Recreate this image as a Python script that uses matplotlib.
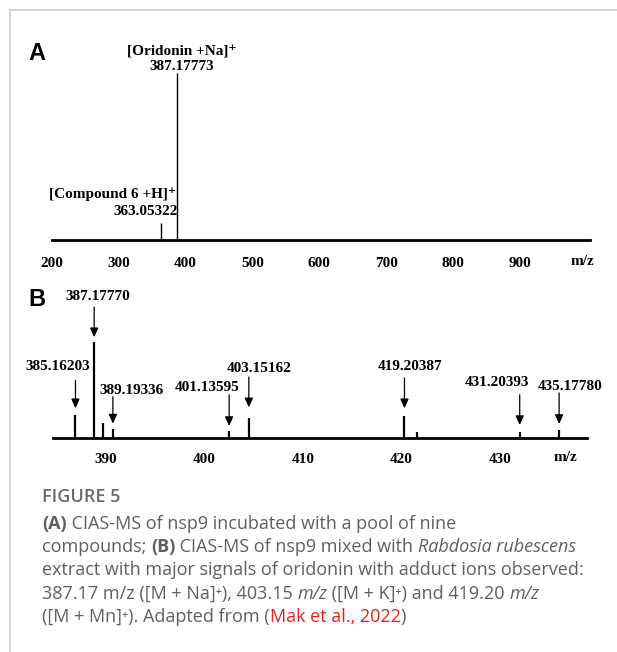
import matplotlib
matplotlib.use("Agg")
import matplotlib.pyplot as plt
from matplotlib.lines import Line2D

# ---------------- data ----------------
# Panel A: full scan
a_mz = [363.05, 387.18]
a_int = [10, 100]
a_ticks = [200, 300, 400, 500, 600, 700, 800, 900]

# Panel B: zoomed scan (peak positions)
b_mz = [386.9, 388.8, 389.7, 390.7, 402.5, 404.5, 420.3, 421.6, 432.0, 436.0]
b_int = [24, 100, 16, 9, 7, 21, 23, 6, 6, 8]
b_ticks = [390, 400, 410, 420, 430]

# labelled peaks in B
b_labels = ["385.16203", "387.17770", "389.19336", "401.13595",
            "403.15162", "419.20387", "431.20393", "435.17780"]
b_label_peak = [386.9, 388.8, 390.7, 402.5, 404.5, 420.3, 432.0, 436.0]

W, H = 617, 652
fig = plt.figure(figsize=(W / 100, H / 100), dpi=100)

def px_axes(x0, y0, x1, y1):
    """axes from pixel box (top-left origin)"""
    return fig.add_axes([x0 / W, 1 - y1 / H, (x1 - x0) / W, (y1 - y0) / H])

serif = ["Liberation Serif", "DejaVu Serif"]
lab_fs = 11

# ---------------- border ----------------
fig.add_artist(Line2D([10 / W, 10 / W], [1 - 10 / H, 0], color="#cccccc", lw=1.2))
fig.add_artist(Line2D([10 / W, 1], [1 - 10 / H, 1 - 10 / H], color="#cccccc", lw=1.2))

# ---------------- panel A ----------------
axA = px_axes(52, 73, 590, 240)
axA.set_xlim(203, 1005)
axA.set_ylim(0, 100)
axA.vlines(a_mz, 0, a_int, color="black", lw=1.0)
axA.axhline(0, color="black", lw=2.0, clip_on=False)
for s in axA.spines.values():
    s.set_visible(False)
axA.set_yticks([])
axA.set_xticks(a_ticks)
axA.set_xticklabels([str(t) for t in a_ticks], fontfamily=serif,
                    fontweight="bold", fontsize=lab_fs)
axA.tick_params(axis="x", length=0, pad=12)
axA.text(993, -13, "m/z", fontfamily=serif, fontweight="bold", fontsize=lab_fs,
         ha="center", va="center", clip_on=False)
axA.text(393.8, 112.6, "[Oridonin +Na]⁺", fontfamily=serif, fontweight="bold",
         fontsize=lab_fs, ha="center", va="center", clip_on=False)
axA.text(393.8, 103.6, "387.17773", fontfamily=serif, fontweight="bold",
         fontsize=lab_fs, ha="center", va="center", clip_on=False)
axA.text(291.0, 27.5, "[Compound 6 +H]⁺", fontfamily=serif, fontweight="bold",
         fontsize=lab_fs, ha="center", va="center", clip_on=False)
axA.text(387.6, 16.8, "363.05322", fontfamily=serif, fontweight="bold",
         fontsize=lab_fs, ha="right", va="center", clip_on=False)
fig.text(37 / W, 1 - 53 / H, "A", fontfamily="Liberation Sans", fontweight="bold",
         fontsize=17, ha="center", va="center")

# ---------------- panel B ----------------
axB = px_axes(53, 342, 587, 438)
axB.set_xlim(384.62, 438.83)
axB.set_ylim(0, 100)
axB.vlines(b_mz, 0, b_int, color="black", lw=1.6)
axB.axhline(0, color="black", lw=2.0, clip_on=False)
for s in axB.spines.values():
    s.set_visible(False)
axB.set_yticks([])
axB.set_xticks(b_ticks)
axB.set_xticklabels([str(t) for t in b_ticks], fontfamily=serif,
                    fontweight="bold", fontsize=lab_fs)
axB.tick_params(axis="x", length=0, pad=11)
axB.text(436.6, -20, "m/z", fontfamily=serif, fontweight="bold", fontsize=lab_fs,
         ha="center", va="center", clip_on=False)
fig.text(37 / W, 1 - 300 / H, "B", fontfamily="Liberation Sans", fontweight="bold",
         fontsize=17, ha="center", va="center")

# label placement (layout only)
b_lab_x = [385.1, 389.2, 392.6, 400.25, 405.6, 420.9, 429.7, 437.1]
b_lab_y = [74, 147, 49, 53, 72, 75, 58, 54]
b_arr_start = [60, 136.5, 43, 45, 63.5, 62.5, 45, 47]
b_arr_tip = [31, 105, 15, 12.5, 32, 31, 13.5, 14.6]
for lab, pk, lx, ly, ys, yt in zip(b_labels, b_label_peak, b_lab_x, b_lab_y,
                                   b_arr_start, b_arr_tip):
    axB.text(lx, ly, lab, fontfamily=serif, fontweight="bold", fontsize=lab_fs,
             ha="center", va="center", clip_on=False)
    axB.annotate("", xy=(pk, yt), xytext=(pk, ys),
                 arrowprops=dict(arrowstyle="-|>,head_length=0.55,head_width=0.25",
                                 color="black", lw=0.9, shrinkA=0, shrinkB=0),
                 annotation_clip=False)

# ---------------- caption ----------------
cap_font = ["Open Sans", "DejaVu Sans"]
cap_fs = 13.0
cap_col = "#5f5f5f"
red = "#e2231a"

fig.text(42 / W, 1 - 497 / H, "FIGURE 5", fontfamily=cap_font, fontsize=cap_fs,
         color="#6a6a6a", fontweight="semibold", ha="left", va="center")

lines = [
    [("(A)", "bold", "normal", cap_col), (" CIAS-MS of nsp9 incubated with a pool of nine", "normal", "normal", cap_col)],
    [("compounds; ", "normal", "normal", cap_col), ("(B)", "bold", "normal", cap_col),
     (" CIAS-MS of nsp9 mixed with ", "normal", "normal", cap_col),
     ("Rabdosia rubescens", "normal", "italic", cap_col)],
    [("extract with major signals of oridonin with adduct ions observed:", "normal", "normal", cap_col)],
    [("387.17 m/z ([M + Na]⁺), 403.15 ", "normal", "normal", cap_col), ("m/z", "normal", "italic", cap_col),
     (" ([M + K]⁺) and 419.20 ", "normal", "normal", cap_col), ("m/z", "normal", "italic", cap_col)],
    [("([M + Mn]⁺). Adapted from (", "normal", "normal", cap_col), ("Mak et al., 2022", "normal", "normal", red),
     (")", "normal", "normal", cap_col)],
]
line_y = [524, 547, 570, 594, 617]
renderer = fig.canvas.get_renderer()
for pieces, yy in zip(lines, line_y):
    x = 42
    for txt, wt, st, col in pieces:
        t = fig.text(x / W, 1 - yy / H, txt, fontfamily=cap_font, fontsize=cap_fs,
                     fontweight=wt, fontstyle=st, color=col, ha="left", va="center")
        bb = t.get_window_extent(renderer=renderer)
        x += bb.width

fig.savefig("out.png", dpi=100)
